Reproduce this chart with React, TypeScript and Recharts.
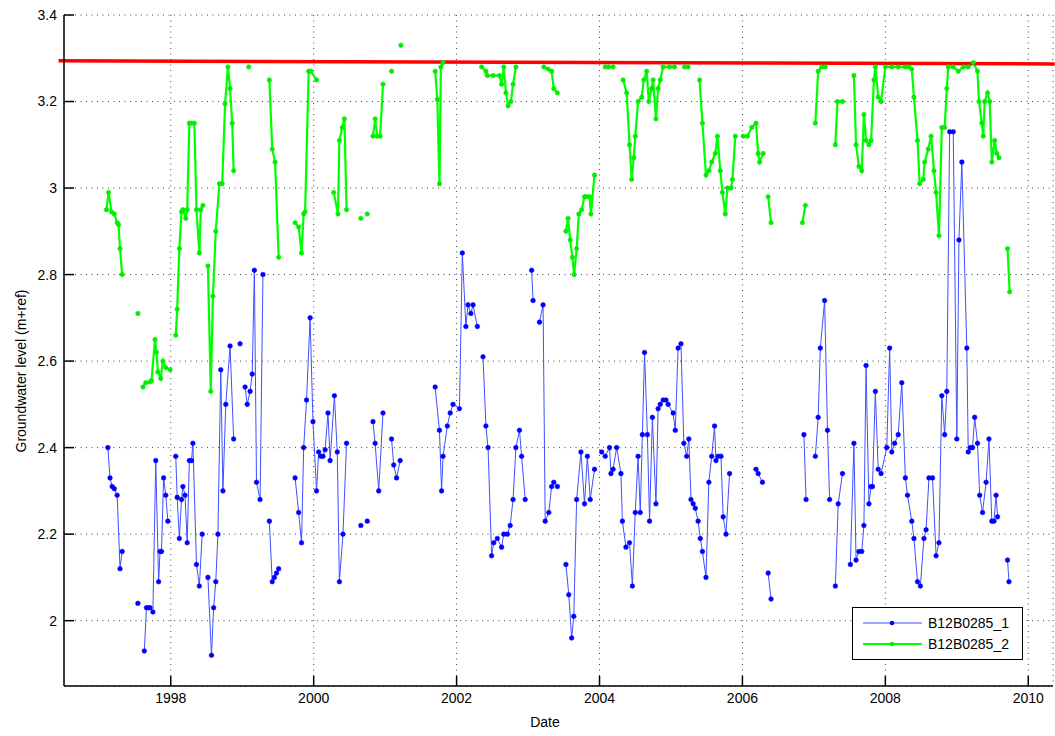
import { LineChart, Line, XAxis, YAxis, CartesianGrid, ReferenceLine } from "recharts";

// null marks a break in the logger record
const B1_DATES: (number | null)[] = [
  1997.12, 1997.15, 1997.18, 1997.21, 1997.25, 1997.29, 1997.32, null,
  1997.54, null,
  1997.63, 1997.66, 1997.69, 1997.71, 1997.75, 1997.79, 1997.83, 1997.85, 1997.87, 1997.9, 1997.93, 1997.96, null,
  1998.07, 1998.09, 1998.12, 1998.15, 1998.17, 1998.2, 1998.23, 1998.26, 1998.29, 1998.31, 1998.36, 1998.4, 1998.44, null,
  1998.52, 1998.57, 1998.6, 1998.63, 1998.66, 1998.7, 1998.73, 1998.77, 1998.83, 1998.88, null,
  1998.97, null,
  1999.04, 1999.07, 1999.11, 1999.14, 1999.17, 1999.2, 1999.25, 1999.29, null,
  1999.38, 1999.42, 1999.45, 1999.48, 1999.51, null,
  1999.74, 1999.79, 1999.83, 1999.86, 1999.9, 1999.95, 1999.99, 2000.04, 2000.07, 2000.1, 2000.13, 2000.16, 2000.2, 2000.23, 2000.29, 2000.33, 2000.36, 2000.41, 2000.46, null,
  2000.66, null,
  2000.75, null,
  2000.83, 2000.86, 2000.91, 2000.97, null,
  2001.09, 2001.12, 2001.16, 2001.21, null,
  2001.7, 2001.76, 2001.79, 2001.81, 2001.87, 2001.91, 2001.95, 2002.04, 2002.08, 2002.13, 2002.16, 2002.2, 2002.23, 2002.29, null,
  2002.37, 2002.41, 2002.44, 2002.49, 2002.52, 2002.57, 2002.63, 2002.66, 2002.71, 2002.75, 2002.79, 2002.83, 2002.88, 2002.91, 2002.96, null,
  2003.05, 2003.07, null,
  2003.16, 2003.21, 2003.24, 2003.29, 2003.33, 2003.36, 2003.41, null,
  2003.53, 2003.57, 2003.61, 2003.64, 2003.68, 2003.74, 2003.79, 2003.83, 2003.87, 2003.93, null,
  2004.03, 2004.08, 2004.14, 2004.16, 2004.19, 2004.24, 2004.3, 2004.32, 2004.37, 2004.42, 2004.46, 2004.5, 2004.54, 2004.57, 2004.6, 2004.63, 2004.67, 2004.7, 2004.74, 2004.79, 2004.82, 2004.85, 2004.89, 2004.93, 2004.96,
  2005.03, 2005.06, 2005.1, 2005.14, 2005.18, 2005.22, 2005.25, 2005.28, 2005.31, 2005.34, 2005.38, 2005.41, 2005.44, 2005.49, 2005.53, 2005.57, 2005.61, 2005.63, 2005.66, 2005.7, 2005.73, 2005.77, 2005.82, null,
  2006.19, 2006.22, 2006.28, null,
  2006.36, 2006.4, null,
  2006.86, 2006.89, null,
  2007.02, 2007.06, 2007.09, 2007.15, 2007.19, 2007.22, null,
  2007.3, 2007.34, 2007.4, null,
  2007.51, 2007.56, 2007.59, 2007.63, 2007.67, 2007.7, 2007.73, 2007.77, 2007.8, 2007.82, 2007.86, 2007.9, 2007.94,
  2008.02, 2008.06, 2008.09, 2008.13, 2008.18, 2008.23, 2008.28, 2008.31, 2008.37, 2008.4, 2008.45, 2008.49, 2008.54, 2008.57, 2008.61, 2008.66, 2008.71, 2008.75, 2008.79, 2008.83,
  2008.86, 2008.9, 2008.95, 2009.0, 2009.03, 2009.07, 2009.14, 2009.16, 2009.19, 2009.22, 2009.25, 2009.29, 2009.32, 2009.36, 2009.41, 2009.45, 2009.49, 2009.52, 2009.55, 2009.57, null,
  2009.71, 2009.73,
];
const B1_LEVELS: (number | null)[] = [
  2.4, 2.33, 2.31, 2.305, 2.29, 2.12, 2.16, null,
  2.04, null,
  1.93, 2.03, 2.03, 2.03, 2.02, 2.37, 2.09, 2.16, 2.16, 2.33, 2.29, 2.23, null,
  2.38, 2.285, 2.19, 2.28, 2.31, 2.29, 2.18, 2.37, 2.37, 2.41, 2.13, 2.08, 2.2, null,
  2.1, 1.92, 2.03, 2.09, 2.2, 2.58, 2.3, 2.5, 2.635, 2.42, null,
  2.64, null,
  2.54, 2.5, 2.53, 2.57, 2.81, 2.32, 2.28, 2.8, null,
  2.23, 2.09, 2.1, 2.11, 2.12, null,
  2.33, 2.25, 2.18, 2.4, 2.51, 2.7, 2.46, 2.3, 2.39, 2.38, 2.38, 2.395, 2.48, 2.37, 2.52, 2.39, 2.09, 2.2, 2.41, null,
  2.22, null,
  2.23, null,
  2.46, 2.41, 2.3, 2.48, null,
  2.42, 2.36, 2.33, 2.37, null,
  2.54, 2.44, 2.3, 2.38, 2.45, 2.48, 2.5, 2.49, 2.85, 2.68, 2.73, 2.71, 2.73, 2.68, null,
  2.61, 2.45, 2.4, 2.15, 2.18, 2.19, 2.17, 2.2, 2.2, 2.22, 2.28, 2.4, 2.44, 2.38, 2.28, null,
  2.81, 2.74, null,
  2.69, 2.73, 2.23, 2.25, 2.31, 2.32, 2.31, null,
  2.13, 2.06, 1.96, 2.01, 2.28, 2.39, 2.27, 2.38, 2.28, 2.35, null,
  2.39, 2.38, 2.4, 2.34, 2.35, 2.4, 2.34, 2.23, 2.17, 2.18, 2.08, 2.25, 2.38, 2.25, 2.43, 2.62, 2.43, 2.23, 2.47, 2.27, 2.49, 2.5, 2.51, 2.51, 2.5,
  2.48, 2.44, 2.63, 2.64, 2.41, 2.38, 2.42, 2.28, 2.27, 2.26, 2.23, 2.19, 2.16, 2.1, 2.32, 2.38, 2.45, 2.37, 2.38, 2.38, 2.24, 2.2, 2.34, null,
  2.35, 2.34, 2.32, null,
  2.11, 2.05, null,
  2.43, 2.28, null,
  2.38, 2.47, 2.63, 2.74, 2.44, 2.28, null,
  2.08, 2.27, 2.34, null,
  2.13, 2.41, 2.14, 2.16, 2.16, 2.22, 2.59, 2.27, 2.31, 2.31, 2.53, 2.35, 2.34,
  2.4, 2.63, 2.39, 2.41, 2.43, 2.55, 2.33, 2.29, 2.23, 2.19, 2.09, 2.08, 2.19, 2.21, 2.33, 2.33, 2.15, 2.18, 2.52, 2.43,
  2.53, 3.13, 3.13, 2.42, 2.88, 3.06, 2.63, 2.39, 2.4, 2.4, 2.47, 2.41, 2.29, 2.25, 2.32, 2.42, 2.23, 2.23, 2.29, 2.24, null,
  2.14, 2.09,
];

const B2_DATES: (number | null)[] = [
  1997.1, 1997.13, 1997.17, 1997.21, 1997.25, 1997.27, 1997.29, 1997.32, null,
  1997.54, null,
  1997.61, 1997.65, 1997.71, 1997.73, 1997.78, 1997.8, 1997.82, 1997.86, 1997.89, 1997.93, 1997.99, null,
  1998.07, 1998.09, 1998.12, 1998.15, 1998.17, 1998.21, 1998.23, 1998.26, 1998.29, 1998.33, 1998.36, 1998.4, 1998.42, 1998.45, null,
  1998.52, 1998.56, 1998.59, 1998.63, 1998.68, 1998.72, 1998.76, 1998.8, 1998.83, 1998.86, 1998.88, null,
  1999.09, null,
  1999.38, 1999.42, 1999.46, 1999.51, null,
  1999.74, 1999.79, 1999.83, 1999.86, 1999.88, 1999.93, 1999.96, 2000.04, null,
  2000.28, 2000.34, 2000.36, 2000.4, 2000.43, 2000.46, null,
  2000.66, null,
  2000.75, null,
  2000.83, 2000.86, 2000.89, 2000.93, 2000.97, null,
  2001.09, null,
  2001.22, null,
  2001.7, 2001.73, 2001.76, 2001.78, 2001.81, null,
  2002.35, 2002.41, 2002.43, 2002.51, 2002.6, 2002.63, 2002.66, 2002.69, 2002.72, 2002.76, 2002.79, 2002.83, null,
  2003.22, 2003.28, 2003.33, 2003.36, 2003.41, null,
  2003.53, 2003.56, 2003.59, 2003.62, 2003.645, 2003.68, 2003.71, 2003.75, 2003.79, 2003.82, 2003.86, 2003.88, 2003.93, null,
  2004.08, 2004.125, 2004.19, null,
  2004.33, 2004.38, 2004.42, 2004.45, 2004.48, 2004.5, 2004.54, 2004.59, 2004.62, 2004.66, 2004.69, 2004.73, 2004.75, 2004.79, 2004.82, 2004.85, 2004.89, 2004.98, 2005.05, null,
  2005.19, 2005.24, null,
  2005.4, 2005.44, 2005.49, 2005.53, 2005.57, 2005.62, 2005.65, 2005.69, 2005.72, 2005.76, 2005.79, 2005.84, 2005.86, 2005.9, null,
  2006.01, 2006.07, 2006.13, 2006.19, 2006.22, 2006.24, 2006.29, null,
  2006.36, 2006.4, null,
  2006.84, 2006.88, null,
  2007.02, 2007.06, 2007.11, 2007.16, null,
  2007.3, 2007.33, 2007.4, null,
  2007.56, 2007.59, 2007.63, 2007.67, 2007.7, 2007.73, 2007.77, 2007.8, 2007.84, 2007.86, 2007.9, 2007.94,
  2008.0, 2008.09, 2008.18, 2008.28, 2008.33, 2008.37, 2008.4, 2008.45, 2008.48, 2008.53, 2008.55, 2008.6, 2008.64, 2008.68, 2008.71, 2008.75, 2008.79, 2008.83,
  2008.86, 2008.88, 2008.95, 2009.02, 2009.09, 2009.16, 2009.23, 2009.29, 2009.31, 2009.35, 2009.37, 2009.39, 2009.43, 2009.46, 2009.49, 2009.53, 2009.56, 2009.59, null,
  2009.71, 2009.74,
];
const B2_LEVELS: (number | null)[] = [
  2.95, 2.99, 2.945, 2.94, 2.92, 2.915, 2.86, 2.8, null,
  2.71, null,
  2.54, 2.55, 2.552, 2.555, 2.65, 2.62, 2.575, 2.56, 2.6, 2.585, 2.58, null,
  2.66, 2.72, 2.86, 2.945, 2.95, 2.93, 2.95, 3.15, 3.15, 3.15, 2.95, 2.85, 2.95, 2.96, null,
  2.82, 2.53, 2.75, 2.9, 3.01, 3.01, 3.195, 3.28, 3.23, 3.15, 3.04, null,
  3.28, null,
  3.25, 3.09, 3.06, 2.84, null,
  2.92, 2.91, 2.85, 2.94, 2.945, 3.27, 3.27, 3.25, null,
  2.99, 2.94, 3.11, 3.14, 3.16, 2.95, null,
  2.93, null,
  2.94, null,
  3.12, 3.16, 3.12, 3.12, 3.24, null,
  3.27, null,
  3.33, null,
  3.27, 3.205, 3.01, 3.28, 3.29, null,
  3.28, 3.27, 3.26, 3.26, 3.26, 3.24, 3.28, 3.22, 3.19, 3.2, 3.24, 3.28, null,
  3.28, 3.275, 3.27, 3.23, 3.22, null,
  2.9, 2.93, 2.88, 2.84, 2.8, 2.86, 2.94, 2.95, 2.98, 2.98, 2.98, 2.94, 3.03, null,
  3.28, 3.28, 3.28, null,
  3.25, 3.22, 3.1, 3.02, 3.07, 3.12, 3.2, 3.21, 3.25, 3.27, 3.2, 3.23, 3.25, 3.16, 3.23, 3.25, 3.28, 3.28, 3.28, null,
  3.28, 3.28, null,
  3.25, 3.15, 3.03, 3.04, 3.06, 3.08, 3.12, 3.04, 2.99, 2.94, 3.0, 3.0, 3.02, 3.12, null,
  3.12, 3.12, 3.14, 3.15, 3.08, 3.06, 3.08, null,
  2.98, 2.92, null,
  2.92, 2.96, null,
  3.15, 3.27, 3.28, 3.28, null,
  3.1, 3.2, 3.2, null,
  3.26, 3.1, 3.05, 3.04, 3.17, 3.11, 3.1, 3.11, 3.25, 3.28, 3.21, 3.2,
  3.28, 3.28, 3.28, 3.28, 3.28, 3.275, 3.21, 3.11, 3.01, 3.02, 3.06, 3.09, 3.12, 3.04, 2.99, 2.89, 3.14, 3.14,
  3.23, 3.28, 3.28, 3.27, 3.28, 3.28, 3.29, 3.27, 3.2, 3.15, 3.12, 3.2, 3.22, 3.2, 3.06, 3.11, 3.08, 3.07, null,
  2.86, 2.76,
];

// reference level drawn across the plot
const REF_DATES = [1996.43, 2010.37];
const REF_LEVELS = [3.294, 3.287];

const X_TICKS = [1998, 2000, 2002, 2004, 2006, 2008, 2010];
const Y_TICKS = [2, 2.2, 2.4, 2.6, 2.8, 3, 3.2, 3.4];
const SERIES_NAMES = ["B12B0285_1", "B12B0285_2"];

const FONT = '"Liberation Sans", Arial, Helvetica, sans-serif';

const toPoints = (dates: (number | null)[], levels: (number | null)[]) =>
  dates.map((t, i) => ({ t: t ?? (dates[i - 1] as number), v: levels[i] }));

const b1 = toPoints(B1_DATES, B1_LEVELS);
const b2 = toPoints(B2_DATES, B2_LEVELS);

const axisStroke = { stroke: "#000", strokeWidth: 1.5 };
const fmt = (v: number) => String(+v.toFixed(1));

const App = () => {
  return (
    <div style={{ position: "absolute", left: 0, top: 0, width: 1055, height: 736, background: "#fff", fontFamily: FONT }}>
      <style>{"body{margin:0}"}</style>
      <LineChart width={1055} height={736} margin={{ top: 15, right: 2, left: 0, bottom: 0 }}>
        <CartesianGrid stroke="#444" strokeDasharray="1 4.5" />
        <XAxis
          type="number"
          dataKey="t"
          domain={[1996.506, 2010.346]}
          ticks={X_TICKS}
          interval={0}
          allowDataOverflow
          height={50}
          tickSize={-10}
          tickMargin={17}
          axisLine={axisStroke}
          tickLine={axisStroke}
          tick={{ fill: "#000", fontSize: 14, fontFamily: FONT }}
          label={() => (
            <text x={545} y={727} textAnchor="middle" fontSize={14} fontFamily={FONT} fill="#000">
              Date
            </text>
          )}
        />
        <XAxis
          xAxisId="top"
          orientation="top"
          type="number"
          dataKey="t"
          domain={[1996.506, 2010.346]}
          ticks={X_TICKS}
          interval={0}
          height={0}
          tickSize={-10}
          tick={false}
          axisLine={axisStroke}
          tickLine={axisStroke}
        />
        <YAxis
          type="number"
          domain={[1.849, 3.4]}
          ticks={Y_TICKS}
          interval={0}
          allowDataOverflow
          width={64}
          tickSize={-10}
          tickMargin={17}
          tickFormatter={fmt}
          axisLine={axisStroke}
          tickLine={axisStroke}
          tick={{ fill: "#000", fontSize: 14, fontFamily: FONT }}
          label={() => (
            <text
              x={21}
              y={371}
              transform="rotate(-90 21 371)"
              textAnchor="middle"
              dominantBaseline="central"
              fontSize={14}
              fontFamily={FONT}
              fill="#000"
            >
              Groundwater level (m+ref)
            </text>
          )}
        />
        <YAxis
          yAxisId="right"
          orientation="right"
          type="number"
          domain={[1.849, 3.4]}
          ticks={Y_TICKS}
          interval={0}
          width={0}
          tickSize={-10}
          tick={false}
          axisLine={axisStroke}
          tickLine={axisStroke}
        />
        <Line
          data={b1}
          dataKey="v"
          name={SERIES_NAMES[0]}
          stroke="#3f4fff"
          strokeWidth={1}
          dot={{ r: 2.3, fill: "#0000ff", stroke: "#0000ff", strokeWidth: 0.6 }}
          connectNulls={false}
          isAnimationActive={false}
        />
        <Line
          data={b2}
          dataKey="v"
          name={SERIES_NAMES[1]}
          stroke="#00ff00"
          strokeWidth={2.2}
          dot={{ r: 2.2, fill: "#00ee00", stroke: "#00ee00", strokeWidth: 0.6 }}
          connectNulls={false}
          isAnimationActive={false}
        />
        <ReferenceLine
          segment={[
            { x: REF_DATES[0], y: REF_LEVELS[0] },
            { x: REF_DATES[1], y: REF_LEVELS[1] },
          ]}
          stroke="#ff0000"
          strokeWidth={3.5}
          ifOverflow="visible"
        />
      </LineChart>
      <div
        style={{
          position: "absolute",
          left: 852,
          top: 607,
          width: 169,
          height: 51,
          border: "1px solid #000",
          background: "#fff",
        }}
      >
        <svg width={169} height={51} style={{ position: "absolute", left: 0, top: 0 }}>
          <line x1={10} x2={69} y1={15} y2={15} stroke="#3f4fff" strokeWidth={1} />
          <circle cx={39} cy={15} r={2.3} fill="#0000ff" />
          <line x1={10} x2={69} y1={36} y2={36} stroke="#00ff00" strokeWidth={2.2} />
          <circle cx={39} cy={36} r={2.2} fill="#00ee00" />
          <text x={75} y={20} fontSize={14} fontFamily={FONT} fill="#000">
            {SERIES_NAMES[0]}
          </text>
          <text x={75} y={41} fontSize={14} fontFamily={FONT} fill="#000">
            {SERIES_NAMES[1]}
          </text>
        </svg>
      </div>
    </div>
  );
};

export default App;
